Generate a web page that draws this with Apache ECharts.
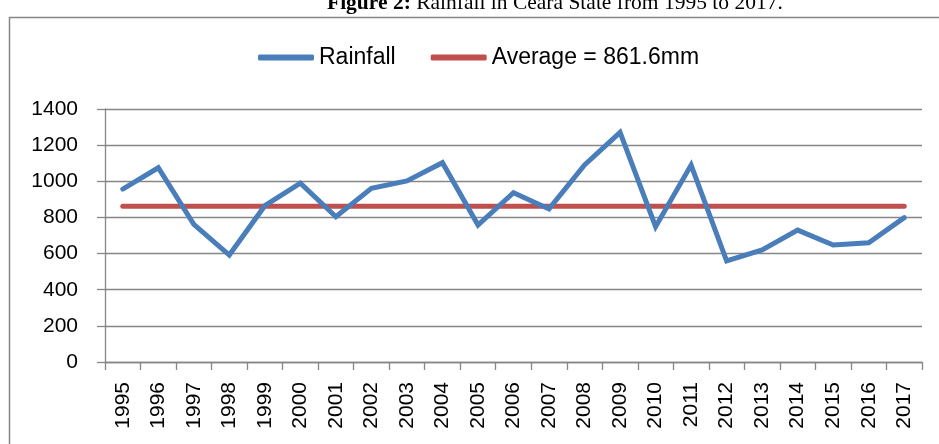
<!DOCTYPE html>
<html>
<head>
<meta charset="utf-8">
<script src="https://cdn.jsdelivr.net/npm/echarts@6/dist/echarts.min.js"></script>
<style>
  html, body { margin: 0; padding: 0; background: #fff; }
  #chart { width: 939px; height: 444px; }
</style>
</head>
<body>
<div id="chart"></div>
<script>
const years = ['1995', '1996', '1997', '1998', '1999', '2000', '2001', '2002', '2003', '2004', '2005', '2006',
  '2007', '2008', '2009', '2010', '2011', '2012', '2013', '2014', '2015', '2016', '2017'];
const rainfall = [957, 1075, 762, 592, 865, 990, 804, 961, 1002, 1103, 758, 937,
  847, 1090, 1271, 749, 1090, 559, 620, 730, 647, 660, 799];
const average = [861.6, 861.6, 861.6, 861.6, 861.6, 861.6, 861.6, 861.6, 861.6, 861.6, 861.6, 861.6,
  861.6, 861.6, 861.6, 861.6, 861.6, 861.6, 861.6, 861.6, 861.6, 861.6, 861.6];
const yTicks = { min: 0, max: 1400, interval: 200 };

const GRID_COLOR = '#868686';
const chart = echarts.init(document.getElementById('chart'));

chart.setOption({
  animation: false,
  backgroundColor: '#fff',
  graphic: [
    {
      type: 'rect', left: 7, top: 15, z: -1,
      shape: { width: 1000, height: 500 },
      style: { fill: 'none', stroke: GRID_COLOR, lineWidth: 1.5 }
    },
    {
      type: 'text', left: 327, top: -8,
      style: {
        text: '{b|Figure 2:} Rainfall in Ceara State from 1995 to 2017.',
        font: '21.5px "Liberation Serif"', fill: '#000',
        rich: { b: { fontFamily: 'Liberation Serif', fontWeight: 'bold', fontSize: 21.5 } }
      }
    }
  ],
  legend: {
    left: 258, top: 46, padding: 0,
    icon: 'roundRect', itemWidth: 56, itemHeight: 6, itemGap: 35,
    textStyle: { fontFamily: 'Liberation Sans', fontSize: 23, color: '#000' },
    data: ['Rainfall', 'Average = 861.6mm']
  },
  grid: { left: 105, right: 17, top: 109, bottom: 82 },
  xAxis: {
    type: 'category', data: years, boundaryGap: true,
    axisLine: { lineStyle: { color: GRID_COLOR, width: 1.3 } },
    axisTick: { show: true, length: 8, lineStyle: { color: GRID_COLOR, width: 1.3 } },
    axisLabel: { rotate: 90, margin: 20, fontFamily: 'Liberation Sans', fontSize: 21, color: '#000', interval: 0 }
  },
  yAxis: {
    type: 'value', min: yTicks.min, max: yTicks.max, interval: yTicks.interval,
    axisLine: { show: true, lineStyle: { color: GRID_COLOR, width: 1.3 } },
    axisTick: { show: true, length: 8, lineStyle: { color: GRID_COLOR, width: 1.3 } },
    axisLabel: {
      margin: 27, fontFamily: 'Liberation Sans', fontSize: 21, color: '#000',
      formatter: v => String(v)
    },
    splitLine: { lineStyle: { color: GRID_COLOR, width: 1.3 } }
  },
  series: [
    {
      name: 'Rainfall', type: 'line', data: rainfall,
      symbol: 'none', lineStyle: { color: '#4A7EBB', width: 5, cap: 'round', join: 'miter' },
      itemStyle: { color: '#4A7EBB' }, z: 3
    },
    {
      name: 'Average = 861.6mm', type: 'line', data: average,
      symbol: 'none', lineStyle: { color: '#C0504D', width: 5, cap: 'round' },
      itemStyle: { color: '#C0504D' }, z: 2
    }
  ]
});
</script>
</body>
</html>
